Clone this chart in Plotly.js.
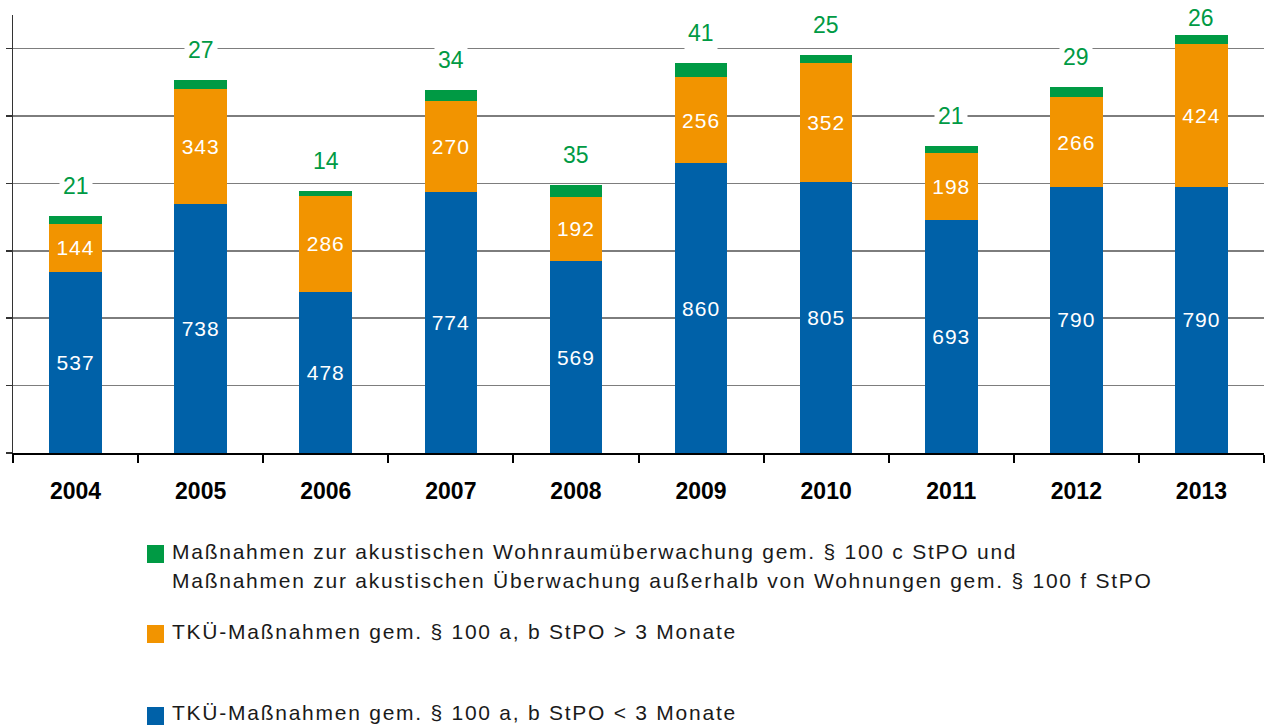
<!DOCTYPE html>
<html>
<head>
<meta charset="utf-8">
<script src="https://cdn.plot.ly/plotly-3.0.1.min.js"></script>
<style>
html,body{margin:0;padding:0;background:#fff;}
#chart{width:1269px;height:726px;}
</style>
</head>
<body>
<div id="chart"></div>
<script>
const years = ['2004','2005','2006','2007','2008','2009','2010','2011','2012','2013'];
const tkuShort = [537, 738, 478, 774, 569, 860, 805, 693, 790, 790];
const tkuLong = [144, 343, 286, 270, 192, 256, 352, 198, 266, 424];
const akustisch = [21, 27, 14, 34, 35, 41, 25, 21, 29, 26];

const legendGreen1 = 'Maßnahmen zur akustischen Wohnraumüberwachung gem. § 100 c StPO und';
const legendGreen2 = 'Maßnahmen zur akustischen Überwachung außerhalb von Wohnungen gem. § 100 f StPO';
const legendOrange = 'TKÜ-Maßnahmen gem. § 100 a, b StPO > 3 Monate';
const legendBlue = 'TKÜ-Maßnahmen gem. § 100 a, b StPO < 3 Monate';

const cBlue = '#0061a8', cOrange = '#f29400', cGreen = '#009a44';
const FONT = 'Liberation Sans, Arial, sans-serif';

const yMax = 1300;
const plotTop = 15, plotBottom = 453;
const pxPerUnit = (plotBottom - plotTop) / yMax;

const traces = [
  {type:'bar', x: years, y: tkuShort, name: legendBlue, marker:{color:cBlue},
   text: tkuShort.map(String), textposition:'inside', insidetextanchor:'middle',
   textfont:{color:'#fff', size:21, family:FONT}, hoverinfo:'x+y'},
  {type:'bar', x: years, y: tkuLong, name: legendOrange, marker:{color:cOrange},
   text: tkuLong.map(String), textposition:'inside', insidetextanchor:'middle',
   textfont:{color:'#fff', size:21, family:FONT}, hoverinfo:'x+y'},
  {type:'bar', x: years, y: akustisch, name: legendGreen1, marker:{color:cGreen},
   textposition:'none', hoverinfo:'x+y'}
];

const annotations = years.map((yr, i) => {
  const total = tkuShort[i] + tkuLong[i] + akustisch[i];
  const yLabel = Math.min(total + 30 / pxPerUnit, yMax - 3 / pxPerUnit);
  return {x: i, y: yLabel, xref:'x', yref:'y', text: String(akustisch[i]),
    showarrow:false, yanchor:'middle', bgcolor:'#fff', borderpad:3,
    font:{color:cGreen, size:23, family:FONT}};
});
const nValueAnn = annotations.length;

function py(p){ return (plotBottom - p) / (plotBottom - plotTop); }
const plotLeft = 13, plotRight = 1264;
function px(p){ return (p - plotLeft) / (plotRight - plotLeft); }

const legendItems = [
  {color:cGreen, sq:[545,563], lines:[[legendGreen1,551],[legendGreen2,580]]},
  {color:cOrange, sq:[625,643], lines:[[legendOrange,631]]},
  {color:cBlue, sq:[707,725], lines:[[legendBlue,713]]}
];
const shapes = [];
legendItems.forEach(it => {
  shapes.push({type:'rect', xref:'paper', yref:'paper', x0:px(147), x1:px(164),
    y0:py(it.sq[1]), y1:py(it.sq[0]), fillcolor:it.color, line:{width:0}});
  it.lines.forEach(l => {
    annotations.push({xref:'paper', yref:'paper', x:px(170), y:py(l[1]), xanchor:'left',
      yanchor:'middle', text:l[0], showarrow:false, align:'left',
      font:{size:21, color:'#1a1a1a', family:FONT}});
  });
});

const layout = {
  width:1269, height:726,
  margin:{l:13, r:5, t:15, b:273},
  paper_bgcolor:'#fff', plot_bgcolor:'#fff',
  barmode:'stack', bargap:0.58, showlegend:false,
  font:{family:FONT},
  xaxis:{type:'category', range:[-0.5, years.length - 0.5], autorange:false,
    showline:true, linecolor:'#000', linewidth:2,
    ticks:'outside', tickson:'boundaries', ticklen:8, tickwidth:2, tickcolor:'#000',
    showgrid:false, tickangle:0, tickfont:{size:23, color:'#000', family:FONT, weight:'bold'},
    ticklabelstandoff:16},
  yaxis:{range:[0,yMax], autorange:false, tickvals:[0,200,400,600,800,1000,1200], showticklabels:false,
    ticks:'outside', ticklen:6, tickwidth:1.5, tickcolor:'#333',
    showline:true, linecolor:'#333', linewidth:1.5,
    showgrid:true, gridcolor:'#7d7d7d', gridwidth:1.5, zeroline:false},
  annotations: annotations,
  shapes: shapes
};

Plotly.newPlot('chart', traces, layout, {displayModeBar:false, staticPlot:true}).then(gd => {
  gd.querySelectorAll('g.annotation').forEach(g => {
    const idx = +g.getAttribute('data-index');
    const t = g.querySelector('text');
    if (!t) return;
    if (idx >= nValueAnn) t.style.letterSpacing = '1.75px';
  });
  gd.querySelectorAll('.bartext').forEach(t => { t.style.letterSpacing = '1px'; });
});
</script>
</body>
</html>
